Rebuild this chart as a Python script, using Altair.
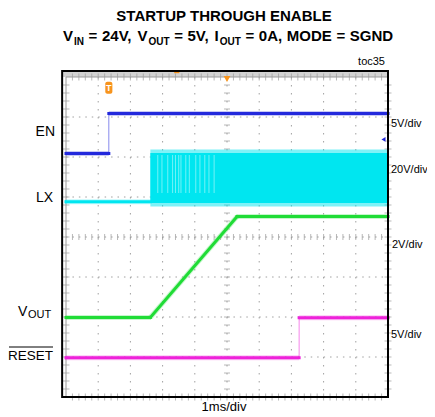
import altair as alt
import pandas as pd
import numpy as np

# ---------------- data (scope divisions: x 0..10 div at 1ms/div, y 0..8 div) ----------------
EN_T = [0.0, 1.33, 1.33, 10.0]
EN_V = [6.09, 6.09, 7.09, 7.09]
LX_T = [0.0, 2.62]
LX_V = [4.88, 4.88]
LX_BAND_T = [2.62, 10.0]
LX_BAND_V = [4.85, 6.10]
LX_SPIKE_V = [4.76, 6.19]
LX_GAPS_T = [2.85, 2.98, 3.16, 3.31, 3.40, 3.50, 3.57, 3.72, 3.83, 4.03, 4.16, 4.31, 4.44, 4.60]
LX_GAP_V = [5.10, 6.05]
VOUT_T = [0.0, 2.62, 5.31, 10.0]
VOUT_V = [1.99, 1.99, 4.51, 4.51]
RESET_T = [0.0, 7.24, 7.24, 10.0]
RESET_V = [0.98, 0.98, 1.98, 1.98]
TRIG_T = 5.0
EN_MARK_T = 1.33
EN_REF_V = 6.44

C_EN = "#2329DC"
C_LX = "#00E6F0"
C_VOUT = "#20DC36"
C_RESET = "#EE22DA"
C_ORANGE = "#F7941D"

XS = alt.Scale(domain=[0, 10], nice=False, zero=False)
YS = alt.Scale(domain=[0, 8], nice=False, zero=False)

PW, PH = 322, 320
OX, OY = 66, 77  # page position of plot origin
FONT = "Liberation Sans, Arial, sans-serif"
one = pd.DataFrame({"a": [0]})


def X(f="x"):
    return alt.X(f"{f}:Q", scale=XS, axis=None)


def Y(f="y"):
    return alt.Y(f"{f}:Q", scale=YS, axis=None)


def segs(t, v):
    rows = []
    for i in range(len(t) - 1):
        rows.append(dict(x=t[i], x2=t[i + 1], y=v[i], y2=v[i + 1], vert=bool(t[i] == t[i + 1])))
    return pd.DataFrame(rows)


def trace(t, v, color):
    base = alt.Chart(segs(t, v)).encode(x=X(), x2="x2:Q", y=Y(), y2="y2:Q")
    fuzz = base.transform_filter("!datum.vert").mark_rule(color=color, strokeWidth=5, opacity=0.25)
    thick = base.transform_filter("!datum.vert").mark_rule(color=color, strokeWidth=3, strokeCap="square")
    thin = base.transform_filter("datum.vert").mark_rule(color=color, strokeWidth=1, opacity=0.55)
    return [fuzz, thick, thin]


def txt(s, px, py, size=13, weight="normal", align="left", baseline="middle", font=FONT, color="black"):
    return alt.Chart(one).mark_text(
        text=s, fontSize=size, fontWeight=weight, align=align, baseline=baseline, font=font, color=color
    ).encode(x=alt.value(px - OX), y=alt.value(py - OY))


layers = []

# top strip and graticule
layers.append(alt.Chart(pd.DataFrame({"x": [-0.12], "x2": [10.0], "y": [8.0], "y2": [8.15]}))
              .mark_rect(color="#d2d2d2").encode(x=X(), x2="x2:Q", y=Y(), y2="y2:Q"))

minor_x = np.round(np.arange(0.2, 10.0, 0.2), 2)
minor_y = np.round(np.arange(0.2, 8.0, 0.2), 2)

vg = pd.DataFrame({"x": list(range(1, 10)), "y": 8.0, "y2": 0.0})
layers.append(alt.Chart(vg).mark_rule(color="#a0a0a0", strokeWidth=1, strokeDash=[1.5, 6.5])
              .encode(x=X(), y=Y(), y2="y2:Q"))
hg = pd.DataFrame({"y": list(range(1, 8)), "x": 0.0, "x2": 10.0})
layers.append(alt.Chart(hg).mark_rule(color="#a0a0a0", strokeWidth=1, strokeDash=[1.5, 4.94])
              .encode(x=X(), x2="x2:Q", y=Y()))

# center cross ticks
layers.append(alt.Chart(pd.DataFrame({"y": minor_y, "x": 5.0}))
              .mark_tick(orient="horizontal", size=6, thickness=1, color="#9a9a9a").encode(x=X(), y=Y()))
layers.append(alt.Chart(pd.DataFrame({"x": minor_x, "y": 4.0}))
              .mark_tick(orient="vertical", size=6, thickness=1, color="#9a9a9a").encode(x=X(), y=Y()))
# border ticks
for yy in (8.0, 0.0):
    layers.append(alt.Chart(pd.DataFrame({"x": minor_x, "y": yy}))
                  .mark_tick(orient="vertical", size=7, thickness=1, color="#9a9a9a").encode(x=X(), y=Y()))
for xx in (0.0, 10.0):
    layers.append(alt.Chart(pd.DataFrame({"y": minor_y, "x": xx}))
                  .mark_tick(orient="horizontal", size=7, thickness=1, color="#9a9a9a").encode(x=X(), y=Y()))

layers.append(alt.Chart(pd.DataFrame({"x": [0.0], "x2": [10.0], "y": [0.0], "y2": [8.0]}))
              .mark_rect(fillOpacity=0, stroke="#9a9a9a", strokeWidth=1).encode(x=X(), x2="x2:Q", y=Y(), y2="y2:Q"))

# LX switching band
band = pd.DataFrame({"x": [LX_BAND_T[0]], "x2": [LX_BAND_T[1]], "y": [LX_BAND_V[0]], "y2": [LX_BAND_V[1]],
                     "ys": [LX_SPIKE_V[0]], "ys2": [LX_SPIKE_V[1]]})
layers.append(alt.Chart(band).mark_rect(color=C_LX, opacity=0.5).encode(x=X(), x2="x2:Q", y=Y("ys"), y2="ys2:Q"))
layers.append(alt.Chart(band).mark_rect(color=C_LX).encode(x=X(), x2="x2:Q", y=Y(), y2="y2:Q"))
gaps = pd.DataFrame({"x": LX_GAPS_T, "y": LX_GAP_V[0], "y2": LX_GAP_V[1]})
layers.append(alt.Chart(gaps).mark_rule(color="white", strokeWidth=1, opacity=0.45).encode(x=X(), y=Y(), y2="y2:Q"))

# traces
layers += trace(EN_T, EN_V, C_EN)
layers += trace(LX_T, LX_V, C_LX)
layers += trace(VOUT_T, VOUT_V, C_VOUT)
layers += trace(RESET_T, RESET_V, C_RESET)

# left ground markers
gm = pd.DataFrame({"x": [0.02] * 4, "y": [EN_V[0], LX_V[0], VOUT_V[0], RESET_V[0]],
                   "c": [C_EN, C_LX, C_VOUT, C_RESET]})
layers.append(alt.Chart(gm).mark_point(shape="triangle-right", filled=True, size=14, opacity=0.8)
              .encode(x=X(), y=Y(), color=alt.Color("c:N", scale=None)))

# markers
layers.append(alt.Chart(pd.DataFrame({"x": [TRIG_T], "y": [7.95]}))
              .mark_point(shape="triangle-down", filled=True, size=45, color=C_ORANGE, opacity=1).encode(x=X(), y=Y()))
layers.append(alt.Chart(pd.DataFrame({"x": [EN_MARK_T - 0.11], "x2": [EN_MARK_T + 0.11], "y": [7.58], "y2": [7.88]}))
              .mark_rect(color=C_ORANGE, cornerRadius=2).encode(x=X(), x2="x2:Q", y=Y(), y2="y2:Q"))
layers.append(alt.Chart(pd.DataFrame({"x": [EN_MARK_T], "y": [7.73]}))
              .mark_text(text="T", color="white", fontWeight="bold", fontSize=9, font=FONT, baseline="middle")
              .encode(x=X(), y=Y()))
layers.append(alt.Chart(pd.DataFrame({"x": [3.36], "x2": [3.52], "y": [8.12]}))
              .mark_rule(color=C_ORANGE, strokeWidth=2).encode(x=X(), x2="x2:Q", y=Y()))
layers.append(alt.Chart(pd.DataFrame({"x": [9.86], "y": [EN_REF_V]}))
              .mark_point(shape="triangle-left", filled=True, size=22, color=C_EN, opacity=1).encode(x=X(), y=Y()))

# outer frame
layers.append(alt.Chart(pd.DataFrame({"x": [-0.12], "x2": [10.0], "y": [0.0], "y2": [8.15]}))
              .mark_rect(fillOpacity=0, stroke="black", strokeWidth=2).encode(x=X(), x2="x2:Q", y=Y(), y2="y2:Q"))

# ---------------- text ----------------
layers.append(txt("STARTUP THROUGH ENABLE", 224, 21, size=15, weight="bold", align="center", baseline="alphabetic"))

# second title line, laid out token by token (subscripts smaller and lower)
TITLE2 = [("V", 0), ("IN", 1), ("=", 0), ("24V,", 0), ("V", 0), ("OUT", 1), ("=", 0), ("5V,", 0),
          ("I", 0), ("OUT", 1), ("=", 0), ("0A,", 0), ("MODE", 0), ("=", 0), ("SGND", 0)]
EM_BOLD = {"V": .667, "I": .278, "N": .722, "O": .778, "U": .722, "T": .611, "=": .584, "2": .556,
           "4": .556, "5": .556, "0": .556, ",": .278, "A": .722, "M": .833, "D": .722, "E": .667,
           "S": .667, "G": .778}
SPACE = 4.6
xpos = 63.0
for i, (s, sub) in enumerate(TITLE2):
    size = 10 if sub else 15
    w = sum(EM_BOLD[c] for c in s) * size
    if sub:
        xpos += 1
        layers.append(txt(s, xpos, 45, size=10, weight="bold", baseline="alphabetic"))
    else:
        if i > 0:
            xpos += SPACE
        layers.append(txt(s, xpos, 41, size=15, weight="bold", baseline="alphabetic"))
    xpos += w

layers.append(txt("toc35", 385, 62, size=11, align="right"))
layers.append(txt("EN", 55, 132, size=14, align="right"))
layers.append(txt("LX", 53, 198, size=14, align="right"))
layers.append(txt("V", 18, 312, size=14))
layers.append(txt("OUT", 28, 315, size=11))
layers.append(txt("RESET", 53, 356, size=13.5, align="right"))
layers.append(alt.Chart(one).mark_rule(color="black", strokeWidth=1)
              .encode(x=alt.value(9 - OX), x2=alt.value(53 - OX), y=alt.value(347 - OY)))

layers.append(txt("5V/div", 391, 124, size=11))
layers.append(txt("20V/div", 391, 170, size=11))
layers.append(txt("2V/div", 392, 245, size=11))
layers.append(txt("5V/div", 391, 335, size=11))
layers.append(txt("1ms/div", 224, 407, align="center"))

chart = alt.layer(*layers).properties(
    width=PW, height=PH,
    autosize="none",
    padding={"left": 58, "top": 69, "right": 39, "bottom": 16},
).configure_view(stroke=None)

chart.save("out.html", embed_options={"renderer": "svg", "actions": False})
